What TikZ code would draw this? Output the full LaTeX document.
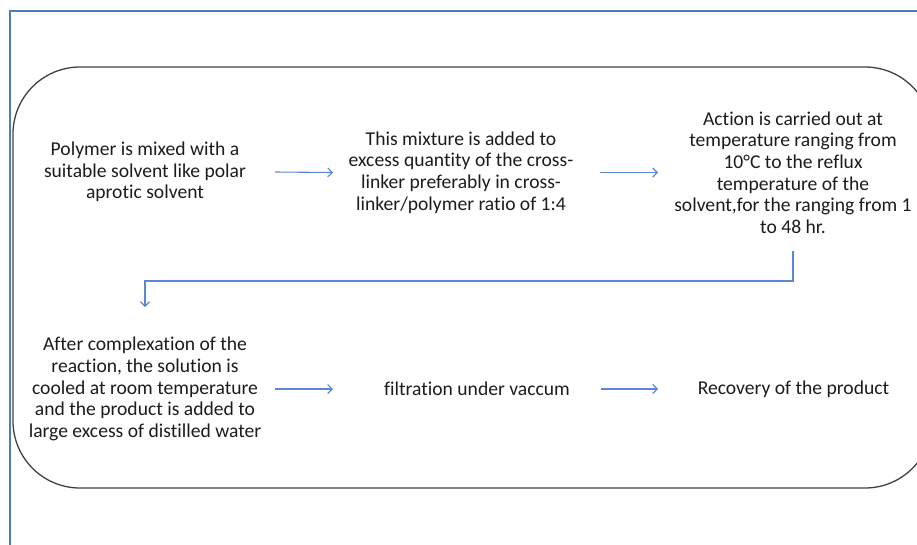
\documentclass[tikz,border=0pt]{standalone}
\usepackage{fontspec}
\setmainfont{Carlito}[Ligatures=NoCommon]
\usetikzlibrary{arrows.meta}
\definecolor{framecol}{HTML}{4A7EBB}
\definecolor{arrowcol}{HTML}{5A88D2}
\definecolor{inkcol}{HTML}{1C1C1C}
\begin{document}
\begin{tikzpicture}[x=1pt,y=-1pt,
  stepnode/.style={align=center,inner sep=0pt,text=inkcol,
    font=\fontsize{19.6}{21.6}\selectfont},
  arr/.style={draw=arrowcol,line width=1.1pt,
    -{Straight Barb[length=4.5pt,width=9pt,line width=1.1pt]}}]
\useasboundingbox (0,0) rectangle (917,544);
\clip (0,0) rectangle (917,544);

% page frame
\draw[framecol,line width=1.8pt] (10,560) -- (10,11) -- (930,11);

% rounded container
\draw[color=black!75,line width=1.3pt,rounded corners=67pt] (13,67) rectangle (932,488);

% process steps, first row
\node[stepnode] (a1) at (145,172) {Polymer is mixed with a\\suitable solvent like polar\\aprotic solvent};
\node[stepnode] (a2) at (461,172.5) {This mixture is added to\\excess quantity of the cross-\\linker preferably in cross-\\linker/polymer ratio of 1:4};
\node[stepnode] (a3) at (793,172.5) {Action is carried out at\\temperature ranging from\\10°C to the reflux\\temperature of the\\solvent,for the ranging from 1\\to 48 hr.};

% process steps, second row
\node[stepnode] (a4) at (145,389) {After complexation of the\\reaction, the solution is\\cooled at room temperature\\and the product is added to\\large excess of distilled water};
\node[stepnode] (a5) at (477,389) {filtration under vaccum};
\node[stepnode] (a6) at (793.5,389) {Recovery of the product};

% connectors
\draw[arr] ([xshift=130pt]a1.center) -- ([xshift=-128pt]a2.center);
\draw[arr] ([xshift=139pt]a2.center) -- ([xshift=-135pt]a3.center);
\coordinate (bend) at (0,281);
\draw[arr] ([yshift=-78.5pt]a3.center) |- (bend -| a4.center) -- ([yshift=82pt]a4.center);
\draw[arr] ([xshift=130pt]a4.center) -- ([xshift=-144pt]a5.center);
\draw[arr] ([xshift=124pt]a5.center) -- ([xshift=-135.5pt]a6.center);
\end{tikzpicture}
\end{document}
